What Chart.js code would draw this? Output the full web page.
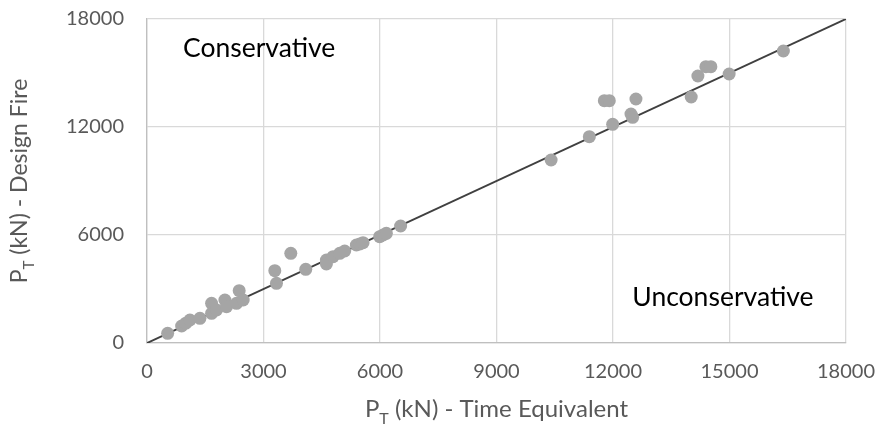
<!DOCTYPE html>
<html>
<head>
<meta charset="utf-8">
<script src="https://cdn.jsdelivr.net/npm/chart.js@4/dist/chart.umd.min.js"></script>
<style>
  body { margin: 0; background: #fff; }
  #wrap { width: 881px; height: 428px; position: relative; }
</style>
</head>
<body>
<div id="wrap"><canvas id="chart"></canvas></div>
<script>
// P_T values (kN): time equivalent (x) vs design fire (y)
const timeEquivalent = [532, 892, 1000, 1106, 1363, 1663, 1663, 1791, 2006, 2048, 2305, 2374, 2477,
  3291, 3334, 3703, 4088, 4620, 4620, 4791, 4963, 5091, 5392, 5480, 5563, 5991, 6080, 6163, 6531,
  10406, 11391, 11777, 11905, 11991, 12463, 12506, 12591, 14014, 14186, 14392, 14520, 14991, 16387];
const designFire = [539, 944, 1100, 1278, 1370, 2204, 1648, 1833, 2389, 2019, 2204, 2907, 2389,
  4018, 3315, 4981, 4093, 4611, 4389, 4796, 4981, 5111, 5444, 5500, 5574, 5907, 6000, 6093, 6500,
  10167, 11463, 13463, 13463, 12148, 12722, 12537, 13556, 13667, 14833, 15352, 15352, 14944, 16222];
const equalityLine = [0, 18000];
const xTicks = [0, 3000, 6000, 9000, 12000, 15000, 18000];
const yTicks = [0, 6000, 12000, 18000];
const regionLabels = ['Conservative', 'Unconservative'];
const regionLabelAt = [[926, 16389], [12497, 2556]];

const FONT = 'Lato, "Open Sans", sans-serif';

// axis titles with a subscript T, and the region notes
const textPlugin = {
  id: 'texts',
  afterDraw(chart) {
    const ctx = chart.ctx;
    const area = chart.chartArea;
    const xs = chart.scales.x, ys = chart.scales.y;

    function subTitle(rest, cx, cy, rot, size) {
      const sub = Math.round(size * 0.65);
      ctx.save();
      ctx.translate(cx, cy);
      ctx.rotate(rot);
      ctx.fillStyle = '#595959';
      ctx.textBaseline = 'alphabetic';
      ctx.textAlign = 'left';
      ctx.font = size + 'px ' + FONT;
      const wP = ctx.measureText('P').width;
      const wR = ctx.measureText(rest).width;
      ctx.font = sub + 'px ' + FONT;
      const wT = ctx.measureText('T').width;
      let x = -(wP + wT + wR) / 2;
      ctx.font = size + 'px ' + FONT;
      ctx.fillText('P', x, 0);
      x += wP;
      ctx.font = sub + 'px ' + FONT;
      ctx.fillText('T', x, 7);
      x += wT;
      ctx.font = size + 'px ' + FONT;
      ctx.fillText(rest, x, 0);
      ctx.restore();
    }
    subTitle(' (kN) - Time Equivalent', (area.left + area.right) / 2, 417, 0, 24);
    subTitle(' (kN) - Design Fire', 27, (area.top + area.bottom) / 2, -Math.PI / 2, 23);

    ctx.save();
    ctx.fillStyle = '#000';
    ctx.font = '26.5px ' + FONT;
    ctx.textAlign = 'left';
    ctx.textBaseline = 'middle';
    regionLabels.forEach((t, i) => {
      ctx.fillText(t, xs.getPixelForValue(regionLabelAt[i][0]), ys.getPixelForValue(regionLabelAt[i][1]));
    });
    ctx.restore();
  }
};

const points = timeEquivalent.map((x, i) => ({ x: x, y: designFire[i] }));

new Chart(document.getElementById('chart'), {
  type: 'scatter',
  data: {
    datasets: [{
      data: points,
      backgroundColor: '#A5A5A5',
      borderColor: '#A5A5A5',
      pointRadius: 6.5,
      pointHoverRadius: 6.5,
      borderWidth: 0,
      order: 0
    }, {
      type: 'line',
      data: equalityLine.map(v => ({ x: v, y: v })),
      borderColor: '#404040',
      borderWidth: 2,
      pointRadius: 0,
      fill: false,
      order: 1
    }]
  },
  options: {
    responsive: true,
    maintainAspectRatio: false,
    animation: false,
    layout: { padding: { top: 19, right: 35, left: 0, bottom: 0 } },
    plugins: {
      legend: { display: false },
      tooltip: { enabled: false }
    },
    scales: {
      x: {
        type: 'linear',
        min: 0,
        max: 18000,
        afterBuildTicks: s => { s.ticks = xTicks.map(v => ({ value: v })); },
        afterFit: s => { s.height = 85; s.paddingLeft = 0; s.paddingRight = 0; },
        grid: { color: '#D9D9D9', lineWidth: 1.3, drawTicks: false },
        border: { color: '#BFBFBF', width: 1.3 },
        ticks: {
          padding: 17, color: '#595959', font: { family: FONT, size: 20 }, maxRotation: 0,
          callback: v => String(v)
        }
      },
      y: {
        type: 'linear',
        min: 0,
        max: 18000,
        afterBuildTicks: s => { s.ticks = yTicks.map(v => ({ value: v })); },
        afterFit: s => { s.width = 147; s.paddingTop = 0; s.paddingBottom = 0; },
        grid: { color: '#D9D9D9', lineWidth: 1.3, drawTicks: false },
        border: { color: '#BFBFBF', width: 1.3 },
        ticks: {
          padding: 23, color: '#595959', font: { family: FONT, size: 20 },
          callback: v => String(v)
        }
      }
    }
  },
  plugins: [textPlugin]
});
</script>
</body>
</html>
